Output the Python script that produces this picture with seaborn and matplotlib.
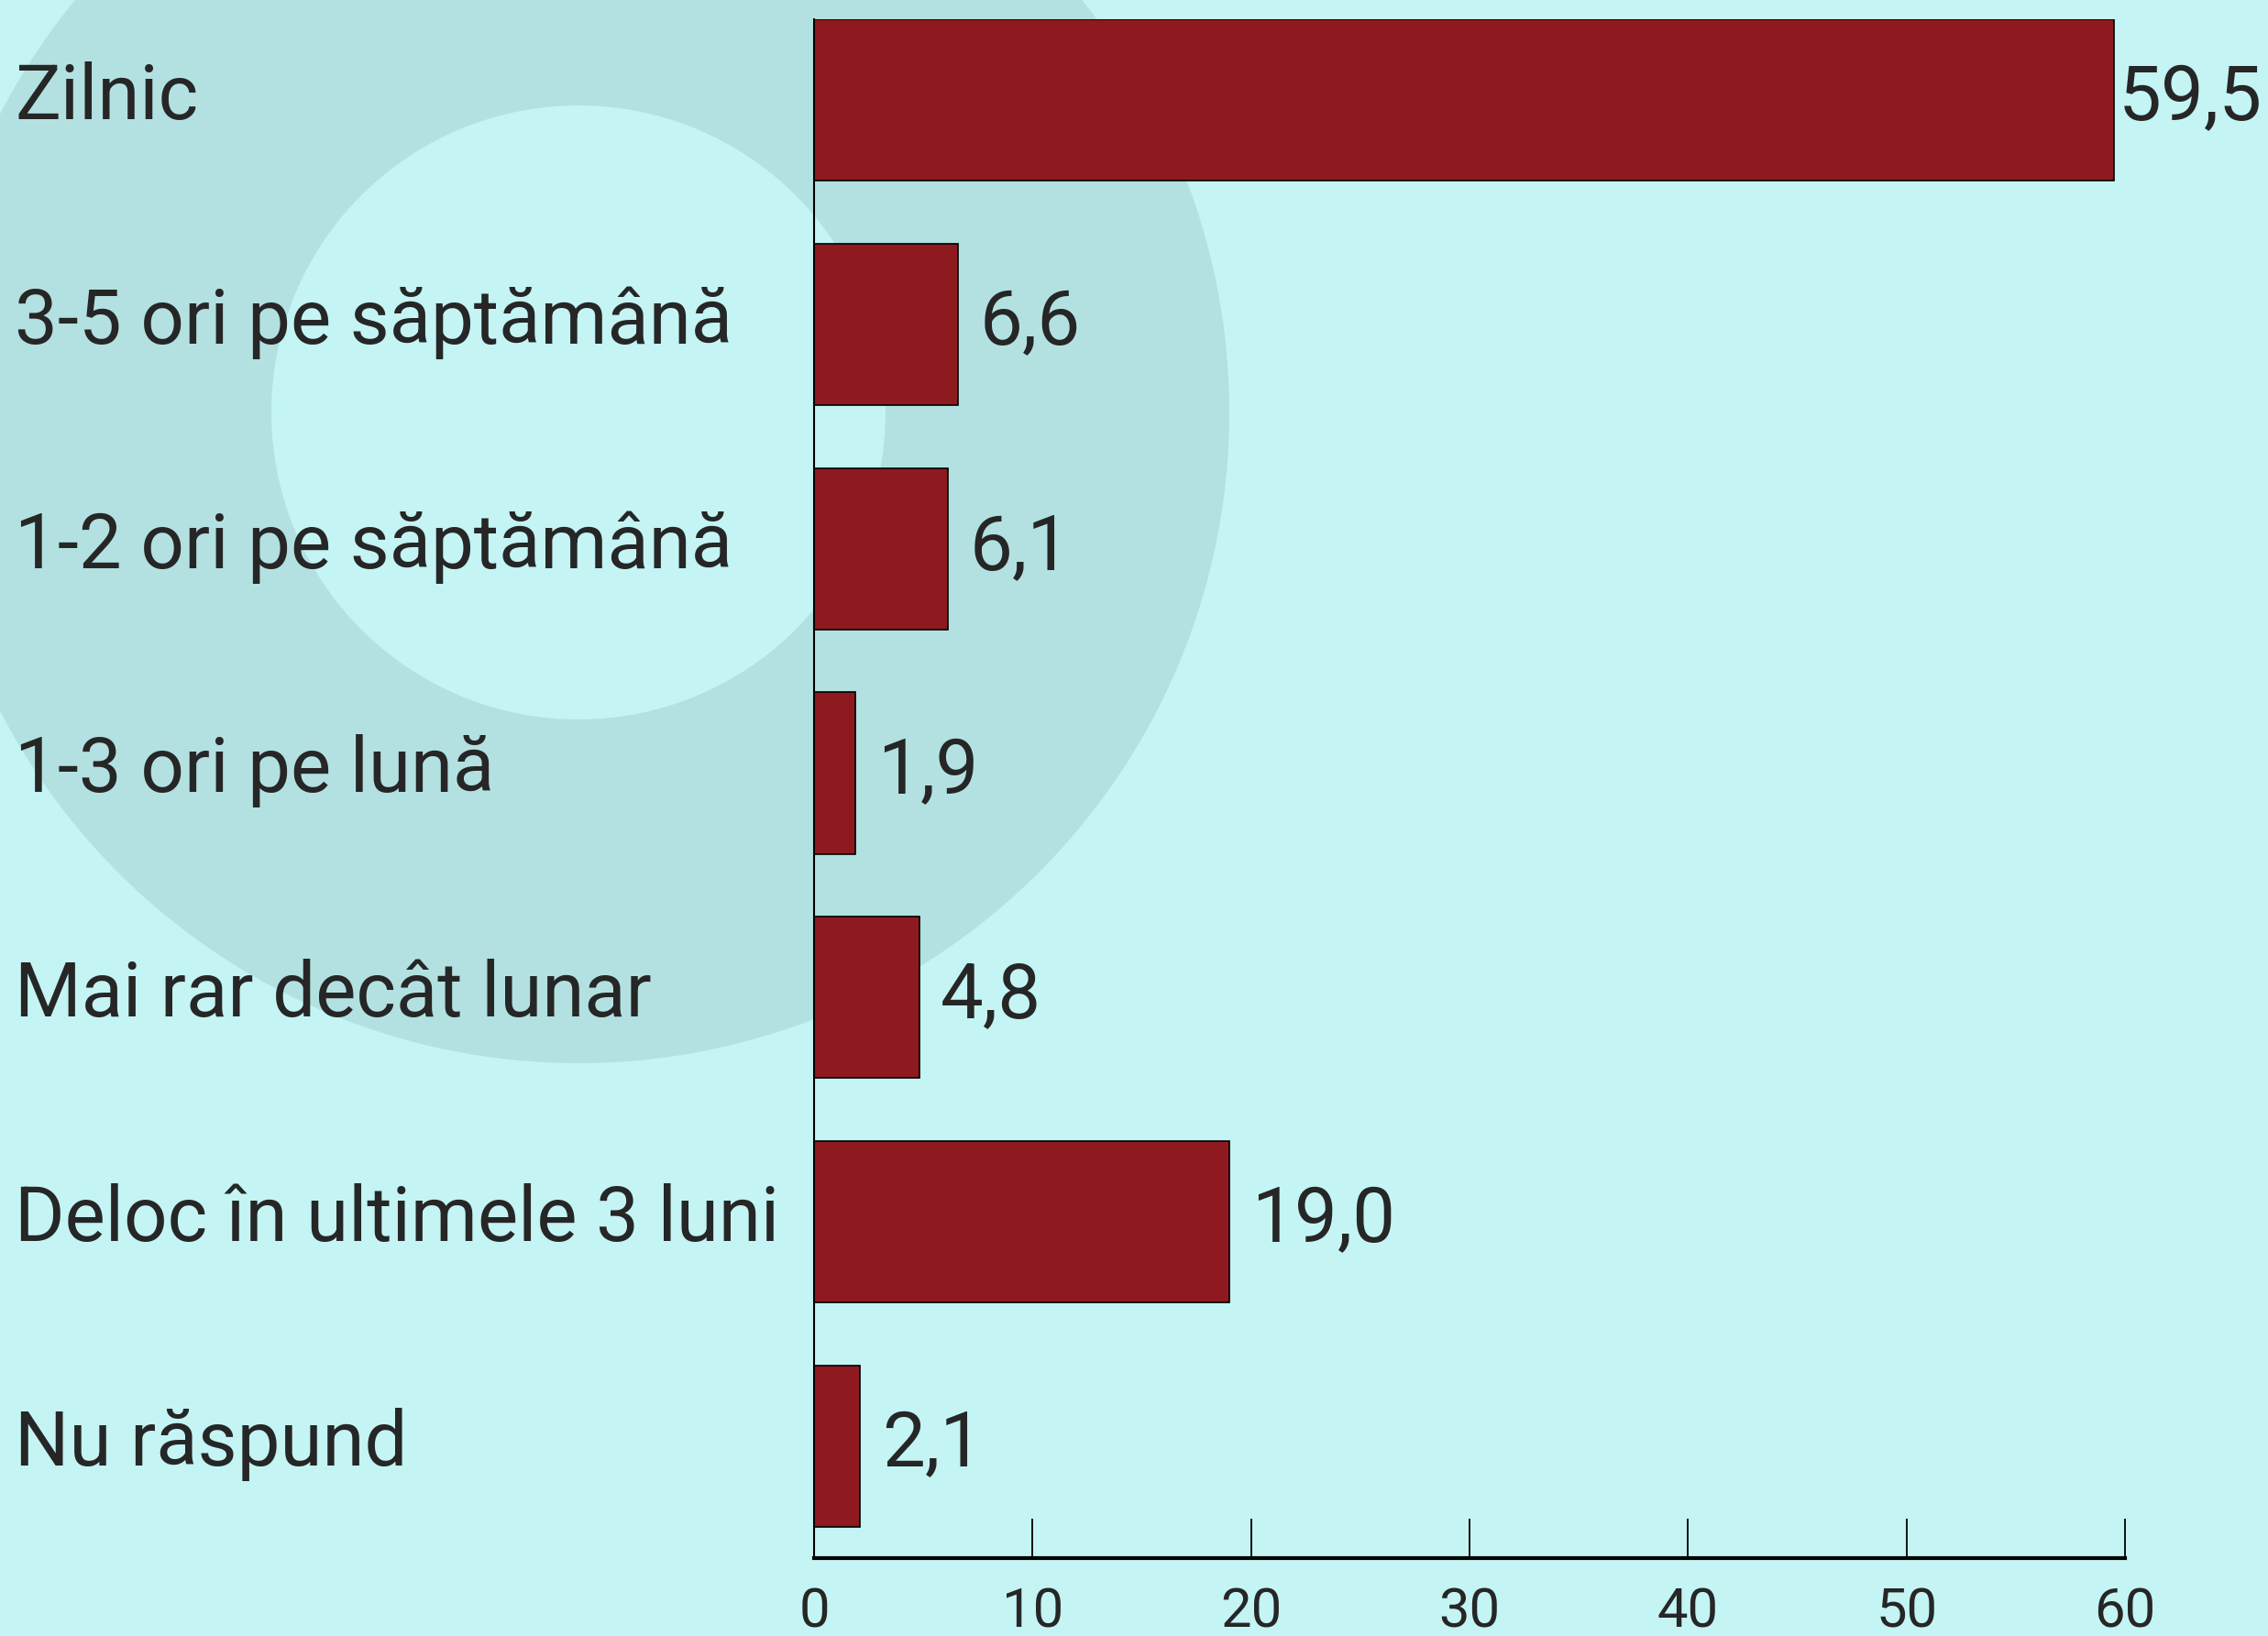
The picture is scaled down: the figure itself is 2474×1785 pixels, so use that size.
import matplotlib
matplotlib.use("Agg")
import matplotlib.pyplot as plt
import matplotlib.transforms as mtransforms
from matplotlib.patches import Wedge
import seaborn as sns

# categories and values (percent)
categories = ["Zilnic", "3-5 ori pe săptămână", "1-2 ori pe săptămână", "1-3 ori pe lună",
              "Mai rar decât lunar", "Deloc în ultimele 3 luni", "Nu răspund"]
values = [59.5, 6.6, 6.1, 1.9, 4.8, 19.0, 2.1]
xticks = [0, 10, 20, 30, 40, 50, 60]

bar_color = "#8e1a20"
text_color = "#262626"

sns.set_theme(style="white")
plt.rcParams["font.family"] = ["Roboto", "DejaVu Sans"]

fig = plt.figure(figsize=(24.74, 17.85), dpi=100)
fig.patch.set_facecolor("#c4f4f4")

# background ring decoration, in pixel coords
bg = fig.add_axes([0, 0, 1, 1], zorder=0)
bg.set_xlim(0, 2474)
bg.set_ylim(1785, 0)
bg.axis("off")
bg.add_patch(Wedge((631, 450), 710, 0, 360, width=375, color="#b3e1e1", lw=0))

ax = fig.add_axes([0.359, 0.0476, 0.578, 0.9405], zorder=1)
ax.set_facecolor("none")
sns.barplot(x=values, y=categories, orient="h", color=bar_color, saturation=1,
            width=0.72, edgecolor="black", linewidth=1.2, ax=ax)

ax.set_xlim(0, 60)
ax.set_ylim(6.5, -0.36)
ax.set_xticks(xticks)
ax.set_xlabel("")
ax.set_ylabel("")
sns.despine(ax=ax)
ax.spines["left"].set_linewidth(1.5)
ax.spines["left"].set_color("black")
ax.spines["bottom"].set_linewidth(3)
ax.spines["bottom"].set_color("black")
ax.tick_params(axis="x", bottom=True, direction="in", length=31, width=1.3, color="black",
               pad=22, labelsize=43, labelcolor=text_color)
ax.tick_params(axis="y", length=0, labelleft=False)

# category labels at the left edge of the figure
trans = mtransforms.blended_transform_factory(fig.transFigure, ax.transData)
for i, cat in enumerate(categories):
    ax.annotate(cat, xy=(16 / 2474, i), xycoords=trans, xytext=(0, -15),
                textcoords="offset points", ha="left", va="baseline",
                fontsize=60, color=text_color)

# value labels
for i, v in enumerate(values):
    pad = 3 if v > 55 else 17
    ax.annotate(f"{v:.1f}".replace(".", ","), xy=(v, i), xycoords="data",
                xytext=(pad, -16), textcoords="offset points", ha="left",
                va="baseline", fontsize=60, color=text_color, annotation_clip=False)

fig.savefig("out.png", dpi=100, facecolor=fig.get_facecolor())
